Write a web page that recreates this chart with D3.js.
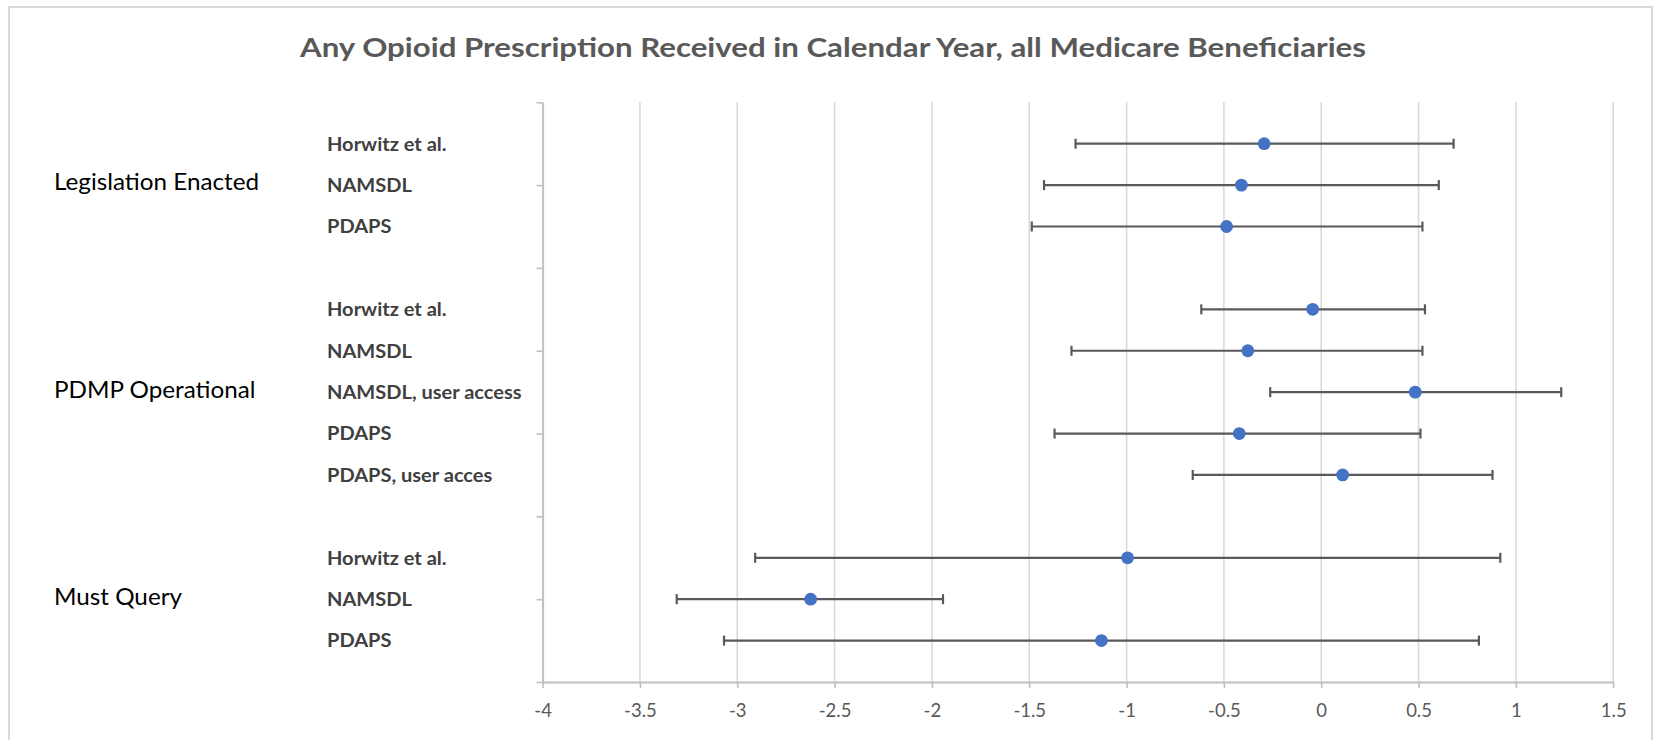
<!DOCTYPE html>
<html>
<head>
<meta charset="utf-8">
<script src="https://cdn.jsdelivr.net/npm/d3@7"></script>
<style>
  html, body { margin: 0; padding: 0; background: #ffffff; }
  svg { display: block; }
</style>
</head>
<body>
<svg id="chart" width="1661" height="740"></svg>
<script>
// ---------------- data ----------------
const title = "Any Opioid Prescription Received in Calendar Year, all Medicare Beneficiaries";
const groups = ["Legislation Enacted", "PDMP Operational", "Must Query"];
const groupMidRow = [12, 7, 2];
const rowLabels = ["Horwitz et al.", "NAMSDL", "PDAPS",
                   "Horwitz et al.", "NAMSDL", "NAMSDL, user access", "PDAPS", "PDAPS, user acces",
                   "Horwitz et al.", "NAMSDL", "PDAPS"];
const rowGroup = [0, 0, 0, 1, 1, 1, 1, 1, 2, 2, 2];
const rowPos = [13, 12, 11, 9, 8, 7, 6, 5, 3, 2, 1];
const estimate = [-0.293, -0.410, -0.486, -0.044, -0.377, 0.483, -0.421, 0.110, -0.995, -2.623, -1.129];
const lower    = [-1.262, -1.424, -1.487, -0.616, -1.283, -0.262, -1.37, -0.66, -2.908, -3.311, -3.068];
const upper    = [ 0.680,  0.604,  0.520,  0.533,  0.520,  1.233,  0.51,  0.88,  0.92, -1.943,  0.81];
const xTicks = [-4, -3.5, -3, -2.5, -2, -1.5, -1, -0.5, 0, 0.5, 1, 1.5];
const xTickLabels = ["-4", "-3.5", "-3", "-2.5", "-2", "-1.5", "-1", "-0.5", "0", "0.5", "1", "1.5"];
const yTicks = [0, 2, 4, 6, 8, 10, 12, 14];

// ---------------- layout ----------------
const svg = d3.select("#chart");
const plotLeft = 542.6, plotRight = 1613.2, plotTop = 102.3, plotBottom = 682;
const x = d3.scaleLinear().domain([-4, 1.5]).range([plotLeft, plotRight]);
const y = d3.scaleLinear().domain([0, 14]).range([plotBottom, plotTop]);

const FONT = "Lato, 'Open Sans', sans-serif";

// chart frame
svg.append("rect")
  .attr("x", 9).attr("y", 7).attr("width", 1643).attr("height", 760)
  .attr("fill", "#ffffff").attr("stroke", "#d9d9d9").attr("stroke-width", 2);

function fit(sel, factor) {
  sel.each(function () {
    const w = this.getComputedTextLength();
    d3.select(this).attr("textLength", w * factor).attr("lengthAdjust", "spacingAndGlyphs");
  });
}

// title
const t = svg.append("text")
  .attr("x", 833).attr("y", 57)
  .attr("text-anchor", "middle")
  .attr("font-family", FONT).attr("font-weight", 700).attr("font-size", 27.5)
  .attr("fill", "#595959")
  .text(title);
fit(t, 1066 / t.node().getComputedTextLength());

// gridlines
svg.append("g").selectAll("line")
  .data(xTicks.slice(1))
  .join("line")
  .attr("x1", d => x(d)).attr("x2", d => x(d))
  .attr("y1", plotTop).attr("y2", plotBottom)
  .attr("stroke", "#d9d9d9").attr("stroke-width", 1.6);

// x axis
const xAxis = svg.append("g")
  .attr("transform", `translate(0,${plotBottom})`)
  .call(d3.axisBottom(x).tickValues(xTicks).tickSize(6).tickSizeOuter(0)
        .tickFormat((d, i) => xTickLabels[i]));
xAxis.select(".domain").attr("stroke", "#bfbfbf").attr("stroke-width", 2);
xAxis.selectAll(".tick line").attr("stroke", "#bfbfbf").attr("stroke-width", 1.6);
xAxis.selectAll(".tick text")
  .attr("y", 35.3).attr("dy", null)
  .attr("font-family", FONT).attr("font-size", 18.5).attr("fill", "#595959");

// y axis
const yAxis = svg.append("g")
  .attr("transform", `translate(${plotLeft},0)`)
  .call(d3.axisLeft(y).tickValues(yTicks).tickSize(6).tickSizeOuter(0).tickFormat(""));
yAxis.select(".domain").attr("stroke", "#bfbfbf").attr("stroke-width", 2);
yAxis.selectAll(".tick line").attr("stroke", "#bfbfbf").attr("stroke-width", 1.6);

// group labels
const gl = svg.append("g").selectAll("text")
  .data(groups)
  .join("text")
  .attr("x", 54)
  .attr("y", (d, i) => y(groupMidRow[i]) - 3 + 0.7165 * 23.4 / 2)
  .attr("font-family", FONT).attr("font-size", 23.4).attr("fill", "#000000")
  .text(d => d);
const glFactor = 205 / gl.nodes()[0].getComputedTextLength();
fit(gl, glFactor);

// row labels
const rl = svg.append("g").selectAll("text")
  .data(rowLabels)
  .join("text")
  .attr("x", 327)
  .attr("y", (d, i) => y(rowPos[i]) + 0.7165 * 19.2 / 2)
  .attr("font-family", FONT).attr("font-weight", 700).attr("font-size", 19.2).attr("fill", "#404040")
  .text(d => d);
const rlFactor = 119.6 / rl.nodes()[0].getComputedTextLength();
fit(rl, rlFactor);

// error bars
const eb = svg.append("g").attr("stroke", "#595959").attr("stroke-width", 2.2);
const idx = d3.range(rowLabels.length);
eb.selectAll("line.bar").data(idx).join("line").attr("class", "bar")
  .attr("x1", i => x(lower[i])).attr("x2", i => x(upper[i]))
  .attr("y1", i => y(rowPos[i])).attr("y2", i => y(rowPos[i]));
eb.selectAll("line.capl").data(idx).join("line").attr("class", "capl")
  .attr("x1", i => x(lower[i])).attr("x2", i => x(lower[i]))
  .attr("y1", i => y(rowPos[i]) - 5).attr("y2", i => y(rowPos[i]) + 5);
eb.selectAll("line.capr").data(idx).join("line").attr("class", "capr")
  .attr("x1", i => x(upper[i])).attr("x2", i => x(upper[i]))
  .attr("y1", i => y(rowPos[i]) - 5).attr("y2", i => y(rowPos[i]) + 5);

// points
svg.append("g").selectAll("circle").data(idx).join("circle")
  .attr("cx", i => x(estimate[i])).attr("cy", i => y(rowPos[i]))
  .attr("r", 6.4).attr("fill", "#4472c4");
</script>
</body>
</html>
